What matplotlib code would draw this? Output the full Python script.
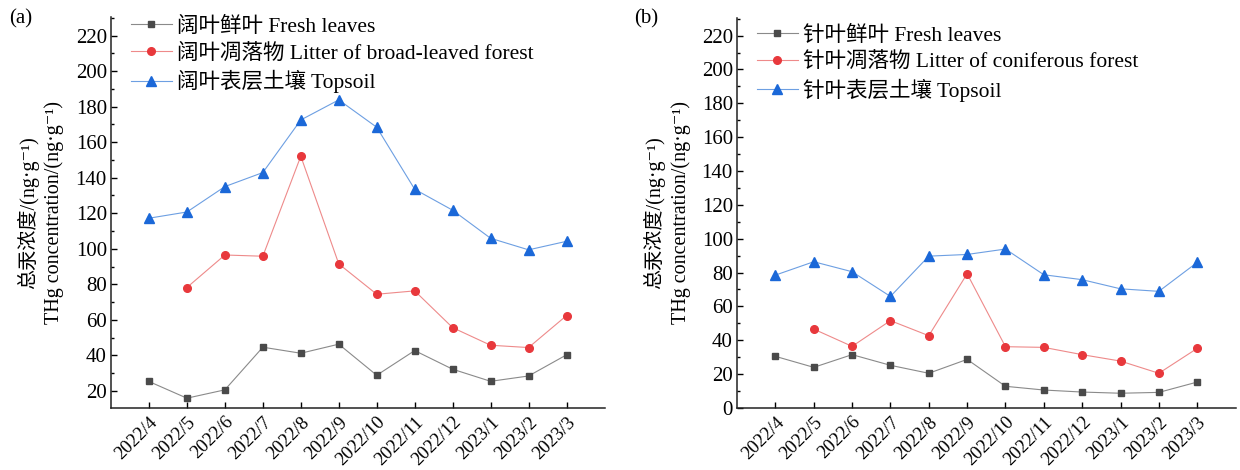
import matplotlib
matplotlib.use("Agg")
import matplotlib.pyplot as plt
from matplotlib.ticker import MultipleLocator

plt.rcParams['font.family'] = ['Liberation Serif', 'Noto Sans CJK SC', 'DejaVu Sans']

months = ['2022/4', '2022/5', '2022/6', '2022/7', '2022/8', '2022/9', '2022/10',
          '2022/11', '2022/12', '2023/1', '2023/2', '2023/3']

# Panel (a) broad-leaved forest
a_fresh = [25.3, 15.9, 20.6, 44.6, 41.2, 46.3, 28.8, 42.7, 32.2, 25.4, 28.4, 40.3]
a_litter = [None, 78.2, 96.5, 95.8, 152.1, 91.5, 74.4, 76.3, 55.6, 45.7, 44.4, 62.4]
a_soil = [117.2, 120.7, 135.0, 142.9, 172.5, 183.8, 168.4, 133.5, 121.7, 105.9, 99.4, 104.2]

# Panel (b) coniferous forest
b_fresh = [30.5, 24.0, 31.5, 25.2, 20.5, 28.7, 12.8, 10.6, 9.4, 8.7, 9.2, 15.3]
b_litter = [None, 46.6, 36.4, 51.6, 42.7, 79.3, 36.2, 35.8, 31.5, 27.7, 20.5, 35.2]
b_soil = [78.5, 86.4, 80.5, 65.9, 89.7, 90.7, 93.9, 78.7, 75.8, 70.4, 68.9, 86.0]

a_labels = ['阔叶鲜叶 Fresh leaves', '阔叶凋落物 Litter of broad-leaved forest', '阔叶表层土壤 Topsoil']
b_labels = ['针叶鲜叶 Fresh leaves', '针叶凋落物 Litter of coniferous forest', '针叶表层土壤 Topsoil']

ylabel = '总汞浓度/(ng·g⁻¹)\nTHg concentration/(ng·g⁻¹)'

styles = [
    dict(marker='s', color='#8a8a8a', mfc='#4a4a4a', mec='#4a4a4a', ms=5),
    dict(marker='o', color='#ee8a8a', mfc='#e8383c', mec='#e8383c', ms=5.5),
    dict(marker='^', color='#6d9fe2', mfc='#1b68d8', mec='#1b68d8', ms=6.5),
]

fig = plt.figure(figsize=(12.4, 4.7), dpi=100)
ax_a = fig.add_axes([0.0895, 0.132, 0.398, 0.832])
ax_b = fig.add_axes([0.5944, 0.132, 0.402, 0.830])


def draw(ax, series, labels, ylim, ytick_start, legend_y):
    x = list(range(len(months)))
    for vals, lab, st in zip(series, labels, styles):
        xs = [i for i, v in zip(x, vals) if v is not None]
        ys = [v for v in vals if v is not None]
        ax.plot(xs, ys, lw=0.8, label=lab, **st)
    ax.set_xlim(-1, 12)
    ax.set_ylim(*ylim)
    ax.set_xticks(x)
    ax.set_xticklabels(months, rotation=45, ha='right', rotation_mode='anchor', fontsize=13.5)
    ax.set_yticks(range(ytick_start, 221, 20))
    ax.yaxis.set_minor_locator(MultipleLocator(10))
    ax.tick_params(axis='y', which='major', direction='in', length=4.5, labelsize=15, width=1, pad=3)
    ax.tick_params(axis='y', which='minor', direction='in', length=2.5, width=1)
    ax.tick_params(axis='x', which='major', direction='in', length=4.5, width=1, pad=4)
    for s in ['top', 'right']:
        ax.spines[s].set_visible(False)
    for s in ['left', 'bottom']:
        ax.spines[s].set_linewidth(1.1)
        ax.spines[s].set_color('#222222')
    ax.set_ylabel(ylabel, fontsize=14.5, linespacing=1.4, labelpad=8)
    ax.legend(loc='upper left', bbox_to_anchor=(0.04, legend_y), frameon=False, fontsize=15.5,
              handlelength=1.9, handletextpad=0.25, labelspacing=0.3, borderaxespad=0.0,
              borderpad=0.0)


draw(ax_a, [a_fresh, a_litter, a_soil], a_labels, (10.4, 230.5), 20, 1.0)
draw(ax_b, [b_fresh, b_litter, b_soil], b_labels, (0, 230.5), 0, 0.98)

fig.text(0.007, 0.96, '(a)', fontsize=15, va='center', ha='left')
fig.text(0.511, 0.96, '(b)', fontsize=15, va='center', ha='left')

fig.savefig('out.png', dpi=100)
